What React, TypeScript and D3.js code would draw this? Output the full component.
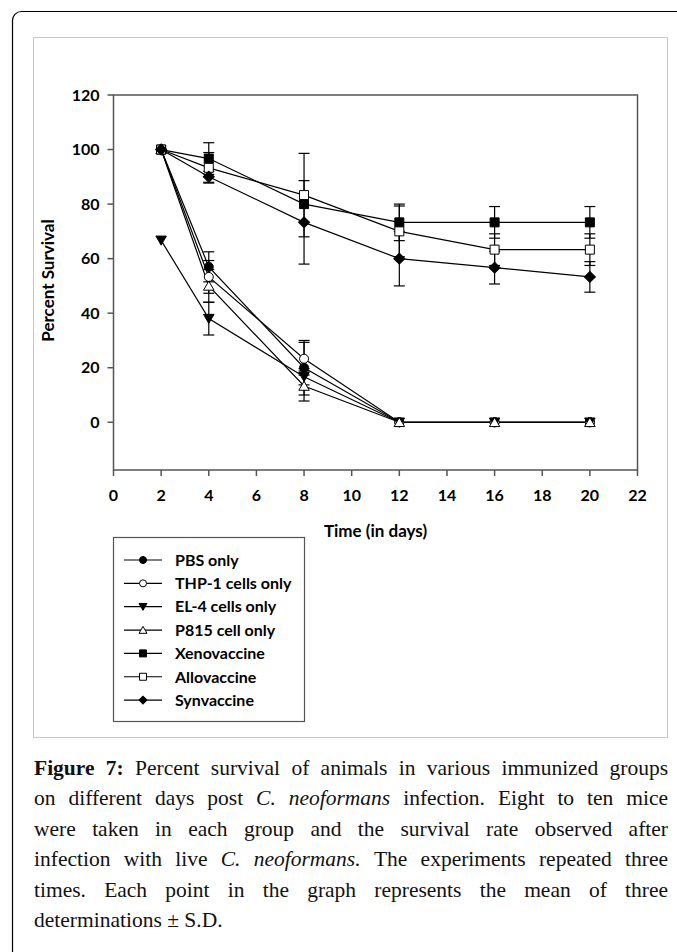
import React, { useMemo } from 'react';
import * as d3 from 'd3';

// ---------- data ----------
const days = [2, 4, 8, 12, 16, 20];
const seriesNames = ['PBS only', 'THP-1 cells only', 'EL-4 cells only', 'P815 cell only', 'Xenovaccine', 'Allovaccine', 'Synvaccine'];
const pbsMean = [100, 57, 20, 0, 0, 0];
const pbsSD = [0, 5.5, 10, 0, 0, 0];
const thpMean = [100, 53.3, 23.3, 0, 0, 0];
const thpSD = [0, 6, 6, 0, 0, 0];
const el4Mean = [66.7, 38, 16.7, 0, 0, 0];
const el4SD = [0, 6, 3, 0, 0, 0];
const p815Mean = [100, 50, 13.3, 0, 0, 0];
const p815SD = [0, 6, 5.5, 0, 0, 0];
const xenoMean = [100, 96.7, 80, 73.3, 73.3, 73.3];
const xenoSD = [0, 5.8, 0, 6.7, 5.8, 5.8];
const alloMean = [100, 93.3, 83.3, 70, 63.3, 63.3];
const alloSD = [0, 5.6, 15.3, 9.3, 5.8, 5.8];
const synMean = [100, 90, 73.3, 60, 56.7, 53.3];
const synSD = [0, 2, 15.3, 10, 6, 5.6];
const xTicks = [0, 2, 4, 6, 8, 10, 12, 14, 16, 18, 20, 22];
const yTicks = [0, 20, 40, 60, 80, 100, 120];
const xTitle = 'Time (in days)';
const yTitle = 'Percent Survival';

type Shape = 'circle' | 'triDown' | 'triUp' | 'square' | 'diamond';
const seriesMeans = [pbsMean, thpMean, el4Mean, p815Mean, xenoMean, alloMean, synMean];
const seriesSDs = [pbsSD, thpSD, el4SD, p815SD, xenoSD, alloSD, synSD];
const seriesShapes: Shape[] = ['circle', 'circle', 'triDown', 'triUp', 'square', 'square', 'diamond'];
const seriesFilled = [true, false, true, false, true, false, true];

const captionLines: { t: string; b?: boolean; i?: boolean }[][] = [
  [{ t: 'Figure 7:', b: true }, { t: 'Percent survival of animals in various immunized groups' }],
  [{ t: 'on different days post' }, { t: 'C. neoformans', i: true }, { t: 'infection. Eight to ten mice' }],
  [{ t: 'were taken in each group and the survival rate observed after' }],
  [{ t: 'infection with live' }, { t: 'C. neoformans.', i: true }, { t: 'The experiments repeated three' }],
  [{ t: 'times. Each point in the graph represents the mean of three' }],
  [{ t: 'determinations ± S.D.' }],
];

// ---------- layout ----------
const W = 677;
const H = 952;
const plot = { left: 113.5, right: 637.5, top: 95, bottom: 470 };
const axisFont = 'Lato, "Open Sans", sans-serif';
const serifFont = '"Liberation Serif", "DejaVu Serif", serif';
const capSize = 21.5;
const capLeft = 34;
const capRight = 668;
const capBase = 775;
const capStep = 30.4;
const tickFont = 16;
const legendFont = 16;
const titleFont = 17;

function symbolPath(shape: Shape, s: number): string {
  switch (shape) {
    case 'circle':
      return d3.symbol(d3.symbolCircle, Math.PI * (s / 2) * (s / 2))() as string;
    case 'square':
      return d3.symbol(d3.symbolSquare, s * s)() as string;
    case 'diamond':
      return d3.symbol(d3.symbolSquare, (s * s) / 2)() as string;
    case 'triUp':
    case 'triDown':
      return d3.symbol(d3.symbolTriangle, (Math.sqrt(3) / 4) * s * s)() as string;
  }
}
function symbolRot(shape: Shape): number {
  if (shape === 'diamond') return 45;
  if (shape === 'triDown') return 180;
  return 0;
}

function Marker({ shape, filled, x, y, s }: { shape: Shape; filled: boolean; x: number; y: number; s: number }) {
  const dy = shape === 'triUp' ? s * 0.12 : shape === 'triDown' ? -s * 0.12 : 0;
  return (
    <path
      d={symbolPath(shape, s)}
      transform={`translate(${x},${y + dy}) rotate(${symbolRot(shape)})`}
      fill={filled ? '#000' : '#fff'}
      stroke="#000"
      strokeWidth={1}
    />
  );
}

export default function App() {
  const x = d3.scaleLinear().domain([0, 22]).range([plot.left, plot.right]);
  const y = d3.scaleLinear().domain([-17.5, 120]).range([plot.bottom, plot.top]);
  const line = d3
    .line<[number, number]>()
    .x((d) => x(d[0]))
    .y((d) => y(d[1]));

  const caption = useMemo(() => {
    const canvas = document.createElement('canvas');
    const ctx = canvas.getContext('2d')!;
    const fontOf = (b?: boolean, i?: boolean) => `${i ? 'italic ' : ''}${b ? 'bold ' : ''}${capSize}px ${serifFont}`;
    ctx.font = fontOf();
    const spaceW = ctx.measureText(' ').width;
    return captionLines.map((segs, li) => {
      const words: { t: string; b?: boolean; i?: boolean; w: number }[] = [];
      segs.forEach((sg) => {
        sg.t.split(' ').forEach((t) => {
          ctx.font = fontOf(sg.b, sg.i);
          words.push({ t, b: sg.b, i: sg.i, w: ctx.measureText(t).width });
        });
      });
      const total = words.reduce((a, w) => a + w.w, 0);
      const last = li === captionLines.length - 1;
      const gap = last ? spaceW : (capRight - capLeft - total) / (words.length - 1);
      let cx = capLeft;
      return words.map((w) => {
        const o = { ...w, x: cx };
        cx += w.w + gap;
        return o;
      });
    });
  }, []);

  const legendY0 = 560;
  const legendStep = 23.35;

  return (
    <svg
      width={W}
      height={H}
      style={{ position: 'absolute', left: 0, top: 0, background: '#fff' }}
      xmlns="http://www.w3.org/2000/svg"
    >
      <rect x={0} y={0} width={W} height={H} fill="#fff" />
      {/* outer frame */}
      <rect x={12.5} y={11.5} width={760} height={1100} rx={9} fill="none" stroke="#000" strokeWidth={1.2} />
      {/* inner figure frame */}
      <rect x={33.5} y={37.5} width={634} height={700} fill="none" stroke="#c8c8c8" strokeWidth={1} />

      {/* plot box */}
      <rect
        x={plot.left}
        y={plot.top}
        width={plot.right - plot.left}
        height={plot.bottom - plot.top}
        fill="none"
        stroke="#555"
        strokeWidth={1.5}
      />
      {/* y ticks */}
      {yTicks.map((t) => (
        <g key={'y' + t}>
          <line x1={plot.left - 6} x2={plot.left} y1={y(t)} y2={y(t)} stroke="#555" strokeWidth={1.5} />
          <text
            x={plot.left - 14}
            y={y(t)}
            dy="0.36em"
            textAnchor="end"
            fontFamily={axisFont}
            fontWeight="bold"
            fontSize={tickFont}
            fill="#000"
          >
            {t}
          </text>
        </g>
      ))}
      {/* x ticks */}
      {xTicks.map((t) => (
        <g key={'x' + t}>
          <line x1={x(t)} x2={x(t)} y1={plot.bottom} y2={plot.bottom + 6} stroke="#555" strokeWidth={1.5} />
          <text
            x={x(t)}
            y={plot.bottom + 31}
            textAnchor="middle"
            fontFamily={axisFont}
            fontWeight="bold"
            fontSize={tickFont}
            fill="#000"
          >
            {t}
          </text>
        </g>
      ))}
      <text
        x={(plot.left + plot.right) / 2}
        y={537}
        textAnchor="middle"
        fontFamily={axisFont}
        fontWeight="bold"
        fontSize={titleFont}
      >
        {xTitle}
      </text>
      <text
        transform={`translate(54,${(plot.top + plot.bottom) / 2 - 2}) rotate(-90)`}
        textAnchor="middle"
        fontFamily={axisFont}
        fontWeight="bold"
        fontSize={titleFont}
      >
        {yTitle}
      </text>

      {/* error bars */}
      {seriesMeans.map((m, si) =>
        m.map((v, i) => {
          const sd = seriesSDs[si][i];
          if (!sd) return null;
          const cx = x(days[i]);
          return (
            <g key={`e${si}-${i}`} stroke="#000" strokeWidth={1.2}>
              <line x1={cx} x2={cx} y1={y(v - sd)} y2={y(v + sd)} />
              <line x1={cx - 5.5} x2={cx + 5.5} y1={y(v - sd)} y2={y(v - sd)} />
              <line x1={cx - 5.5} x2={cx + 5.5} y1={y(v + sd)} y2={y(v + sd)} />
            </g>
          );
        })
      )}
      {/* lines */}
      {seriesMeans.map((m, si) => (
        <path
          key={'l' + si}
          d={line(m.map((v, i) => [days[i], v] as [number, number])) as string}
          fill="none"
          stroke="#000"
          strokeWidth={1.2}
        />
      ))}
      {/* markers */}
      {seriesMeans.map((m, si) =>
        m.map((v, i) => (
          <Marker
            key={`m${si}-${i}`}
            shape={seriesShapes[si]}
            filled={seriesFilled[si]}
            x={x(days[i])}
            y={y(v)}
            s={seriesShapes[si] === 'diamond' ? 11 : seriesShapes[si].startsWith('tri') ? 10.5 : 9}
          />
        ))
      )}

      {/* legend */}
      <rect x={113.5} y={537.5} width={191} height={184} fill="#fff" stroke="#555" strokeWidth={1.2} />
      {seriesNames.map((n, si) => {
        const ly = legendY0 + si * legendStep;
        return (
          <g key={'lg' + si}>
            <line x1={124} x2={162} y1={ly} y2={ly} stroke="#000" strokeWidth={1.2} />
            <Marker
              shape={seriesShapes[si]}
              filled={seriesFilled[si]}
              x={143}
              y={ly}
              s={seriesShapes[si] === 'diamond' ? 8 : seriesShapes[si].startsWith('tri') ? 8 : 7}
            />
            <text x={175} y={ly} dy="0.36em" fontFamily={axisFont} fontWeight="bold" fontSize={legendFont}>
              {n}
            </text>
          </g>
        );
      })}

      {/* caption */}
      {caption.map((words, li) =>
        words.map((w, wi) => (
          <text
            key={`c${li}-${wi}`}
            x={w.x}
            y={capBase + li * capStep}
            fontFamily={serifFont}
            fontSize={capSize}
            fontWeight={w.b ? 'bold' : 'normal'}
            fontStyle={w.i ? 'italic' : 'normal'}
            fill="#111"
          >
            {w.t}
          </text>
        ))
      )}
    </svg>
  );
}
